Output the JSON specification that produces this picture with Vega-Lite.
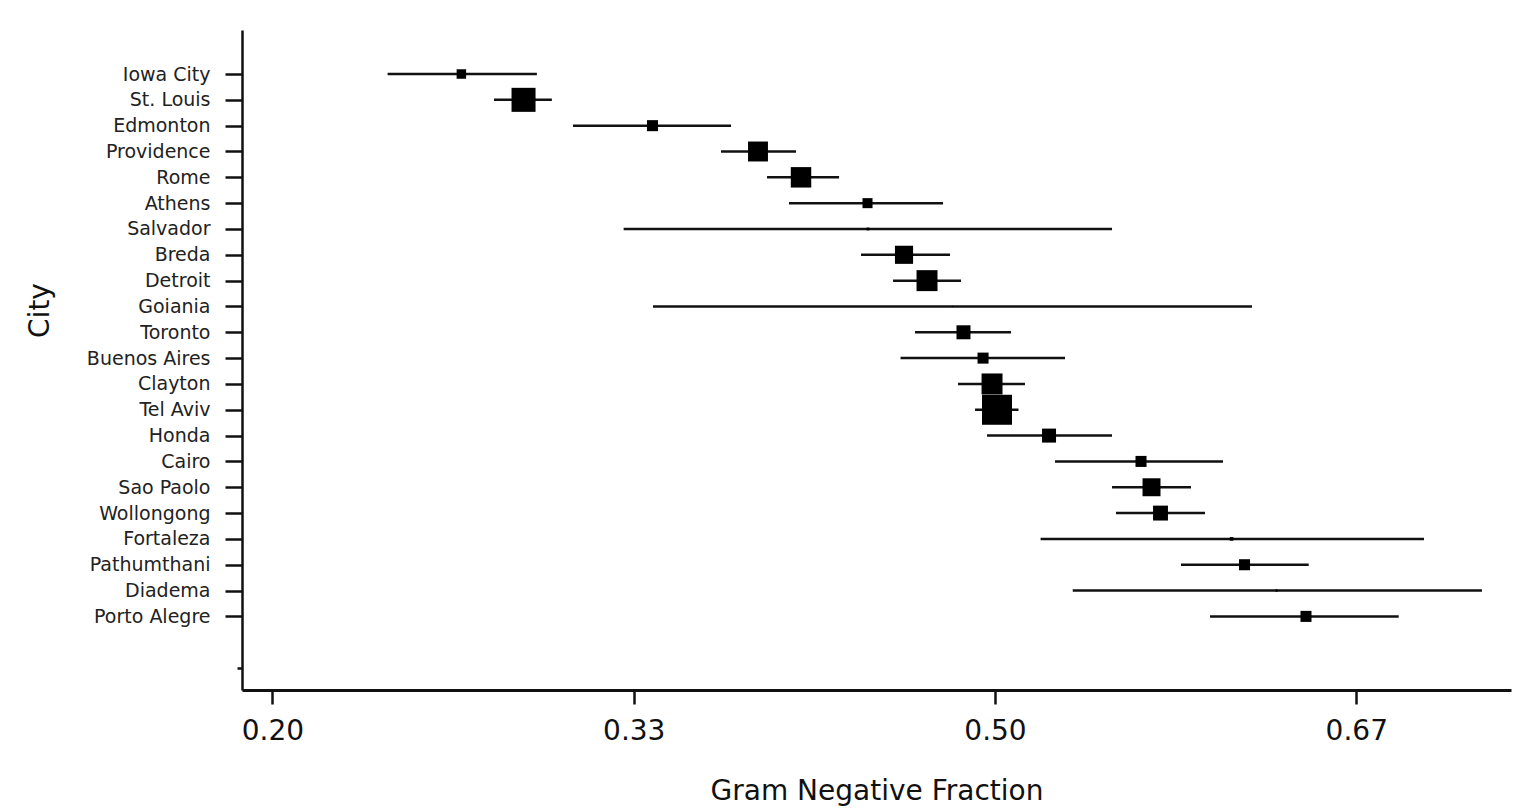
{
  "$schema": "https://vega.github.io/schema/vega-lite/v6.json",
  "autosize": {"type": "none"},
  "padding": {"left": 242, "top": 30, "right": 20, "bottom": 119},
  "width": 1269,
  "height": 660,
  "background": "white",
  "config": {
    "view": {"stroke": null},
    "font": "DejaVu Sans"
  },
  "data": {
    "values": [
      {"city": "Iowa City", "odds": 0.3592, "odds_lo": 0.3118, "odds_hi": 0.4152, "weight": 1.7},
      {"city": "St. Louis", "odds": 0.4047, "odds_lo": 0.3824, "odds_hi": 0.4273, "weight": 10.9},
      {"city": "Edmonton", "odds": 0.5183, "odds_lo": 0.4450, "odds_hi": 0.6026, "weight": 2.3},
      {"city": "Providence", "odds": 0.6346, "odds_lo": 0.5911, "odds_hi": 0.6826, "weight": 7.5},
      {"city": "Rome", "odds": 0.6892, "odds_lo": 0.6457, "odds_hi": 0.7414, "weight": 7.9},
      {"city": "Athens", "odds": 0.7830, "odds_lo": 0.6735, "odds_hi": 0.9051, "weight": 1.9},
      {"city": "Salvador", "odds": 0.7837, "odds_lo": 0.4904, "odds_hi": 1.2517, "weight": 0.15},
      {"city": "Breda", "odds": 0.8398, "odds_lo": 0.7733, "odds_hi": 0.9173, "weight": 6.2},
      {"city": "Detroit", "odds": 0.8777, "odds_lo": 0.8223, "odds_hi": 0.9369, "weight": 8.3},
      {"city": "Goiania", "odds": 0.9218, "odds_lo": 0.5188, "odds_hi": 1.6373, "weight": 0.03},
      {"city": "Toronto", "odds": 0.9413, "odds_lo": 0.8577, "odds_hi": 1.0312, "weight": 3.7},
      {"city": "Buenos Aires", "odds": 0.9773, "odds_lo": 0.8342, "odds_hi": 1.1437, "weight": 2.3},
      {"city": "Clayton", "odds": 0.9943, "odds_lo": 0.9315, "odds_hi": 1.0592, "weight": 8.3},
      {"city": "Tel Aviv", "odds": 1.0038, "odds_lo": 0.9624, "odds_hi": 1.0461, "weight": 17.0},
      {"city": "Honda", "odds": 1.1092, "odds_lo": 0.9848, "odds_hi": 1.2517, "weight": 3.7},
      {"city": "Cairo", "odds": 1.3233, "odds_lo": 1.1220, "odds_hi": 1.5487, "weight": 2.3},
      {"city": "Sao Paolo", "odds": 1.3502, "odds_lo": 1.2517, "odds_hi": 1.4565, "weight": 6.1},
      {"city": "Wollongong", "odds": 1.3737, "odds_lo": 1.2613, "odds_hi": 1.4961, "weight": 4.2},
      {"city": "Fortaleza", "odds": 1.5745, "odds_lo": 1.0914, "odds_hi": 2.2774, "weight": 0.25},
      {"city": "Pathumthani", "odds": 1.6140, "odds_lo": 1.4288, "odds_hi": 1.8255, "weight": 2.3},
      {"city": "Diadema", "odds": 1.7164, "odds_lo": 1.1608, "odds_hi": 2.5454, "weight": 0.1},
      {"city": "Porto Alegre", "odds": 1.8160, "odds_lo": 1.5106, "odds_hi": 2.1696, "weight": 2.3}
    ]
  },
  "encoding": {
    "y": {
      "field": "city",
      "type": "nominal",
      "sort": null,
      "scale": {
        "type": "point",
        "domain": ["   ", "Iowa City", "St. Louis", "Edmonton", "Providence", "Rome", "Athens", "Salvador", "Breda", "Detroit", "Goiania", "Toronto", "Buenos Aires", "Clayton", "Tel Aviv", "Honda", "Cairo", "Sao Paolo", "Wollongong", "Fortaleza", "Pathumthani", "Diadema", "Porto Alegre", " ", "  "],
        "padding": 0.777,
        "align": 0.453
      },
      "axis": {
        "title": "City",
        "titleFont": "DejaVu Sans",
        "titleFontSize": 28,
        "titleFontWeight": "normal",
        "titleColor": "#111111",
        "titleAngle": -90,
        "titleAlign": "center",
        "titleBaseline": "alphabetic",
        "titleX": -194,
        "titleY": 280,
        "labelFont": "DejaVu Sans",
        "labelFontSize": 19,
        "labelColor": "#222222",
        "labelPadding": 15,
        "domainColor": "#111111",
        "domainWidth": 2.5,
        "tickColor": "#111111",
        "tickWidth": 2.5,
        "tickSize": {"condition": {"test": "datum.value === '  '", "value": 5}, "value": 17},
        "tickOpacity": {"condition": {"test": "datum.value === ' ' || datum.value === '   '", "value": 0}, "value": 1},
        "grid": false
      }
    }
  },
  "layer": [
    {
      "mark": {"type": "rule", "color": "#111111", "strokeWidth": 2.5},
      "encoding": {
        "x": {
          "field": "odds_lo",
          "type": "quantitative",
          "scale": {"type": "log", "base": 2, "domain": [0.2358, 2.6912], "nice": false},
          "axis": {
            "title": "Gram Negative Fraction",
            "titleFont": "DejaVu Sans",
            "titleFontSize": 28,
            "titleFontWeight": "normal",
            "titleColor": "#111111",
            "titlePadding": 32,
            "values": [0.25, 0.5, 1, 2],
            "labelExpr": "format(datum.value / (1 + datum.value), '.2f')",
            "labelFont": "DejaVu Sans",
            "labelFontSize": 28,
            "labelColor": "#111111",
            "labelPadding": 13,
            "domainColor": "#111111",
            "domainWidth": 3,
            "tickColor": "#111111",
            "tickWidth": 2.5,
            "tickSize": 14,
            "grid": false
          }
        },
        "x2": {"field": "odds_hi"}
      }
    },
    {
      "mark": {"type": "point", "shape": "square", "filled": true, "color": "#000000", "opacity": 1, "strokeWidth": 0},
      "encoding": {
        "x": {"field": "odds", "type": "quantitative"},
        "size": {
          "field": "weight",
          "type": "quantitative",
          "scale": {"type": "linear", "domain": [0, 17], "range": [0, 900], "zero": true},
          "legend": null
        }
      }
    }
  ]
}
